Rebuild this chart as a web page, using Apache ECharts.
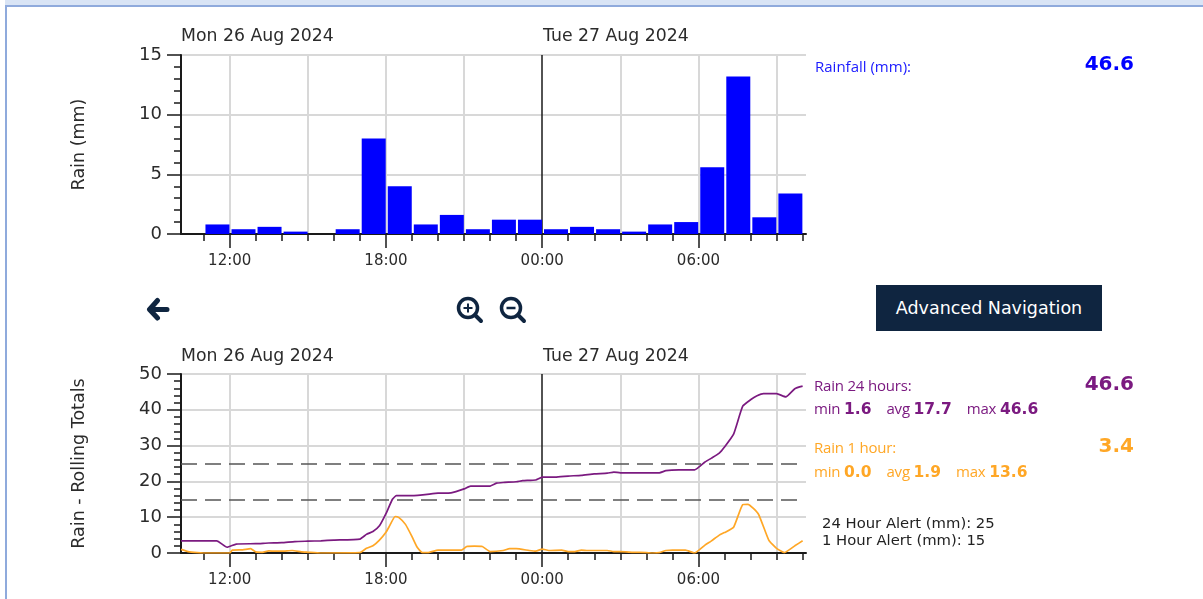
<!DOCTYPE html>
<html>
<head>
<meta charset="utf-8">
<title>Rain</title>
<script src="https://cdn.jsdelivr.net/npm/echarts@6/dist/echarts.min.js"></script>
<style>
  html, body { margin: 0; padding: 0; background: #fff; overflow: hidden; }
  #page { position: relative; width: 1203px; height: 599px; }
  #topBand { position: absolute; left: 5px; top: 0; right: 0; height: 5px; background: #d9e4f5; border-bottom: 2px solid #8faadc; }
  #leftBand { position: absolute; left: 5px; top: 5px; bottom: 0; width: 2px; background: #8faadc; }
  #chart { position: absolute; left: 0; top: 0; width: 1203px; height: 599px; }
  .txt { position: absolute; white-space: nowrap; font-family: "Open Sans", sans-serif; font-size: 15px; line-height: 18px; letter-spacing: -0.2px; }
  .txt b { font-family: "DejaVu Sans", sans-serif; font-size: 15.5px; letter-spacing: 0; }
  .txt span { margin-right: 15px; }
  .big { font-family: "DejaVu Sans", sans-serif; font-weight: bold; font-size: 20px; letter-spacing: 0; text-align: right; width: 80px; left: 1054px; }
  .alert { font-family: "DejaVu Sans", sans-serif; font-size: 14.8px; color: #222; letter-spacing: 0; left: 822px; }
  #advNav { position: absolute; left: 876px; top: 285px; width: 226px; height: 46px; line-height: 46px; text-align: center; background: #0f2540; color: #fff; font-family: "DejaVu Sans", sans-serif; font-size: 17.5px; }
  svg { position: absolute; }
</style>
</head>
<body>
<div id="page">
  <div id="topBand"></div>
  <div id="leftBand"></div>
  <div id="chart"></div>

  <div class="txt" style="left:815px;top:57px;color:#1a1aff;letter-spacing:0">Rainfall (mm):</div>
  <div class="txt big" style="top:54px;color:#0000ff">46.6</div>

  <div class="txt" style="left:814px;top:376px;color:#7b1a80">Rain 24 hours:</div>
  <div class="txt big" style="top:374px;color:#7b1a80">46.6</div>
  <div class="txt" style="left:814px;top:399px;color:#7b1a80"><span>min <b>1.6</b></span><span>avg <b>17.7</b></span><span>max <b>46.6</b></span></div>

  <div class="txt" style="left:814px;top:438px;color:#ffa726">Rain 1 hour:</div>
  <div class="txt big" style="top:436px;color:#ffa726">3.4</div>
  <div class="txt" style="left:814px;top:462px;color:#ffa726"><span>min <b>0.0</b></span><span>avg <b>1.9</b></span><span>max <b>13.6</b></span></div>

  <div class="txt alert" style="top:514px">24 Hour Alert (mm): 25</div>
  <div class="txt alert" style="top:531px">1 Hour Alert (mm): 15</div>

  <div id="advNav">Advanced Navigation</div>

  <svg style="left:146px;top:297px" width="25" height="25" viewBox="0 0 25 25">
    <path d="M11.5 3.5 L3.5 12.5 L11.5 21 M5 12.5 H21" fill="none" stroke="#0f2540" stroke-width="5" stroke-linecap="round" stroke-linejoin="round"/>
  </svg>
  <svg style="left:456px;top:296px" width="28" height="28" viewBox="0 0 28 28">
    <circle cx="12" cy="12" r="9.5" fill="none" stroke="#0f2540" stroke-width="3.5"/>
    <path d="M19 19 L25 25" stroke="#0f2540" stroke-width="4" stroke-linecap="round"/>
    <path d="M7.5 12 H16.5 M12 7.5 V16.5" stroke="#0f2540" stroke-width="2"/>
  </svg>
  <svg style="left:499px;top:296px" width="28" height="28" viewBox="0 0 28 28">
    <circle cx="12" cy="12" r="9.5" fill="none" stroke="#0f2540" stroke-width="3.5"/>
    <path d="M19 19 L25 25" stroke="#0f2540" stroke-width="4" stroke-linecap="round"/>
    <path d="M7.5 12 H16.5" stroke="#0f2540" stroke-width="2.5"/>
  </svg>
</div>

<script>
// x values are hours counted from 00:00 Mon 26 Aug
const xMin = 10.13
const xMax = 34.13
const alertEnd = 33.87
const hourTicks = [11, 12, 13, 14, 15, 16, 17, 18, 19, 20, 21, 22, 23, 24, 25, 26, 27, 28, 29, 30, 31, 32, 33, 34]
const gridHours = [12, 15, 18, 21, 27, 30, 33]
const labelHours = [12, 18, 24, 30]
const midnight = [24]
const alertLevels = [25, 15]

// rainfall per hour, first bar is 11:00-12:00
const rainHours = [11, 12, 13, 14, 15, 16, 17, 18, 19, 20, 21, 22, 23, 24, 25, 26, 27, 28, 29, 30, 31, 32, 33]
const rainValues = [0.8, 0.4, 0.6, 0.2, 0, 0.4, 8, 4, 0.8, 1.6, 0.4, 1.2, 1.2, 0.4, 0.6, 0.4, 0.2, 0.8, 1, 5.6, 13.2, 1.4, 3.4]

const rain24Hours = [10.13, 11.5, 11.9, 12.25, 13, 13.5, 14, 14.5, 15, 15.5, 16, 17, 17.25, 17.5, 17.75, 18, 18.25, 18.4, 19, 20, 20.5, 21, 21.25, 21.5, 22, 22.25, 22.5, 23, 23.25, 23.75, 24, 24.5, 25, 25.5, 26, 26.5, 26.75, 27, 28, 28.5, 28.75, 29.25, 29.85, 30.25, 30.5, 30.8, 31, 31.35, 31.7, 32, 32.25, 32.5, 33, 33.35, 33.7, 34]
const rain24Values = [3.4, 3.4, 1.6, 2.5, 2.6, 2.8, 2.9, 3.2, 3.3, 3.4, 3.6, 3.9, 5.2, 6, 7.6, 11, 15, 16, 16, 16.7, 16.8, 17.9, 18.7, 18.7, 18.7, 19.5, 19.7, 19.9, 20.2, 20.4, 21.2, 21.2, 21.5, 21.7, 22.1, 22.3, 22.6, 22.4, 22.4, 22.4, 23, 23.2, 23.2, 25.4, 26.5, 27.9, 29.6, 33.2, 41, 42.8, 43.9, 44.5, 44.5, 43.6, 45.9, 46.6]

const rain1Hours = [10.13, 10.4, 10.75, 11, 12, 12.1, 12.5, 12.8, 13, 13.25, 13.5, 13.75, 14, 14.4, 14.75, 15, 15.5, 17, 17.25, 17.5, 17.75, 18, 18.15, 18.35, 18.5, 18.75, 19, 19.2, 19.4, 19.6, 20, 20.5, 20.9, 21.1, 21.4, 21.7, 22, 22.5, 22.75, 23, 23.5, 23.75, 24, 24.25, 24.75, 25, 25.25, 25.5, 25.75, 26, 26.5, 26.75, 27, 27.5, 28, 28.25, 28.5, 28.75, 29, 29.5, 29.85, 30.25, 30.5, 30.8, 31, 31.35, 31.7, 31.9, 32.3, 32.7, 33, 33.3, 33.7, 34]
const rain1Values = [1, 0.4, 0.1, 0, 0, 0.8, 0.9, 1.2, 0.3, 0.2, 0.6, 0.5, 0.5, 0.7, 0.3, 0.2, 0, 0.1, 1.3, 2, 3.6, 5.8, 7.7, 10.2, 9.9, 8, 4.6, 1.6, 0.1, 0.1, 0.8, 0.8, 0.8, 1.8, 1.9, 1.8, 0.4, 0.7, 1.2, 1.2, 0.7, 0.5, 1.1, 0.7, 0.8, 0.4, 0.4, 0.8, 0.7, 0.7, 0.7, 0.4, 0.4, 0.2, 0.1, 0, 0.1, 0.7, 0.8, 0.8, 0, 2.2, 3.4, 5, 5.7, 7.2, 13.5, 13.6, 10.9, 3.6, 1.3, 0.1, 2, 3.4]

const font = '"DejaVu Sans", sans-serif'
const textColor = '#2b2b2b'
const lineBlack = '#1a1a1a'

function pairs(xs, ys) {
  return xs.map((x, i) => [x, ys[i]])
}

function hourLabel(h) {
  const v = h % 24
  return (v < 10 ? '0' : '') + v + ':00'
}

// each grid stacks four x axes: hourly ticks, 3 hourly grid, 6 hourly labels, midnight line
function xAxesFor(gridIndex) {
  const base = {
    type: 'value',
    gridIndex: gridIndex,
    position: 'bottom',
    min: xMin,
    max: xMax,
    axisLine: { show: false, onZero: false },
    axisTick: { show: false },
    axisLabel: { show: false },
    splitLine: { show: false },
  }
  return [
    {
      ...base,
      axisLine: { show: true, onZero: false, lineStyle: { color: lineBlack, width: 2 } },
      axisTick: { show: true, length: 7, customValues: hourTicks, lineStyle: { color: lineBlack, width: 1.5 } },
    },
    {
      ...base,
      axisTick: { show: false, customValues: gridHours },
      splitLine: { show: true, lineStyle: { color: '#d8d8d8', width: 2 } },
    },
    {
      ...base,
      axisTick: { show: true, length: 14, customValues: labelHours, lineStyle: { color: lineBlack, width: 1.5 } },
      axisLabel: {
        show: true,
        customValues: labelHours,
        margin: 20,
        fontFamily: font,
        fontSize: 15,
        color: textColor,
        formatter: hourLabel,
      },
    },
    {
      ...base,
      axisTick: { show: false, customValues: midnight },
      splitLine: { show: true, lineStyle: { color: lineBlack, width: 1.5 } },
    },
  ]
}

function yAxisFor(gridIndex, name, max, interval) {
  return {
    type: 'value',
    gridIndex: gridIndex,
    min: 0,
    max: max,
    interval: interval,
    name: name,
    nameLocation: 'middle',
    nameGap: 93,
    nameTextStyle: { fontFamily: font, fontSize: 17.5, color: textColor },
    axisLine: { show: true, onZero: false, lineStyle: { color: lineBlack, width: 2 } },
    axisTick: { show: true, length: 14, lineStyle: { color: lineBlack, width: 1.5 } },
    minorTick: { show: true, splitNumber: 5, length: 7, lineStyle: { color: lineBlack, width: 1.5 } },
    axisLabel: { margin: 19, padding: [3, 0, 0, 0], fontFamily: font, fontSize: 18, color: textColor },
    splitLine: { show: true, lineStyle: { color: '#d8d8d8', width: 2 } },
  }
}

function dateTitle(text, left, top) {
  return { text: text, left: left, top: top, padding: 0, textStyle: { fontFamily: font, fontSize: 17.3, fontWeight: 'normal', color: textColor } }
}

const myChart = echarts.init(document.getElementById('chart'))
myChart.setOption({
  animation: false,
  title: [
    dateTitle('Mon 26 Aug 2024', 181, 28),
    dateTitle('Tue 27 Aug 2024', 543, 28),
    dateTitle('Mon 26 Aug 2024', 181, 348),
    dateTitle('Tue 27 Aug 2024', 543, 348),
  ],
  grid: [
    { left: 181, top: 55, width: 625, height: 179 },
    { left: 181, top: 374, width: 625, height: 179 },
  ],
  xAxis: xAxesFor(0).concat(xAxesFor(1)),
  yAxis: [
    yAxisFor(0, 'Rain (mm)', 15, 5),
    yAxisFor(1, 'Rain - Rolling Totals', 50, 10),
  ],
  series: [
    {
      name: 'Rainfall (mm)',
      type: 'bar',
      xAxisIndex: 0,
      yAxisIndex: 0,
      barWidth: 24,
      itemStyle: { color: '#0000ff' },
      data: pairs(rainHours.map((h) => h + 0.53), rainValues),
    },
    {
      name: 'Rain 24 hours',
      type: 'line',
      xAxisIndex: 4,
      yAxisIndex: 1,
      showSymbol: false,
      smooth: 0.15,
      lineStyle: { color: '#7b1a80', width: 1.7 },
      data: pairs(rain24Hours, rain24Values),
      markLine: {
        silent: true,
        symbol: 'none',
        label: { show: false },
        lineStyle: { color: '#555', type: [16, 8], width: 1.5 },
        data: alertLevels.map((v) => [{ coord: [xMin, v] }, { coord: [alertEnd, v] }]),
      },
    },
    {
      name: 'Rain 1 hour',
      type: 'line',
      xAxisIndex: 4,
      yAxisIndex: 1,
      showSymbol: false,
      smooth: 0.15,
      lineStyle: { color: '#ffa726', width: 1.7 },
      data: pairs(rain1Hours, rain1Values),
    },
  ],
})
</script>
</body>
</html>
